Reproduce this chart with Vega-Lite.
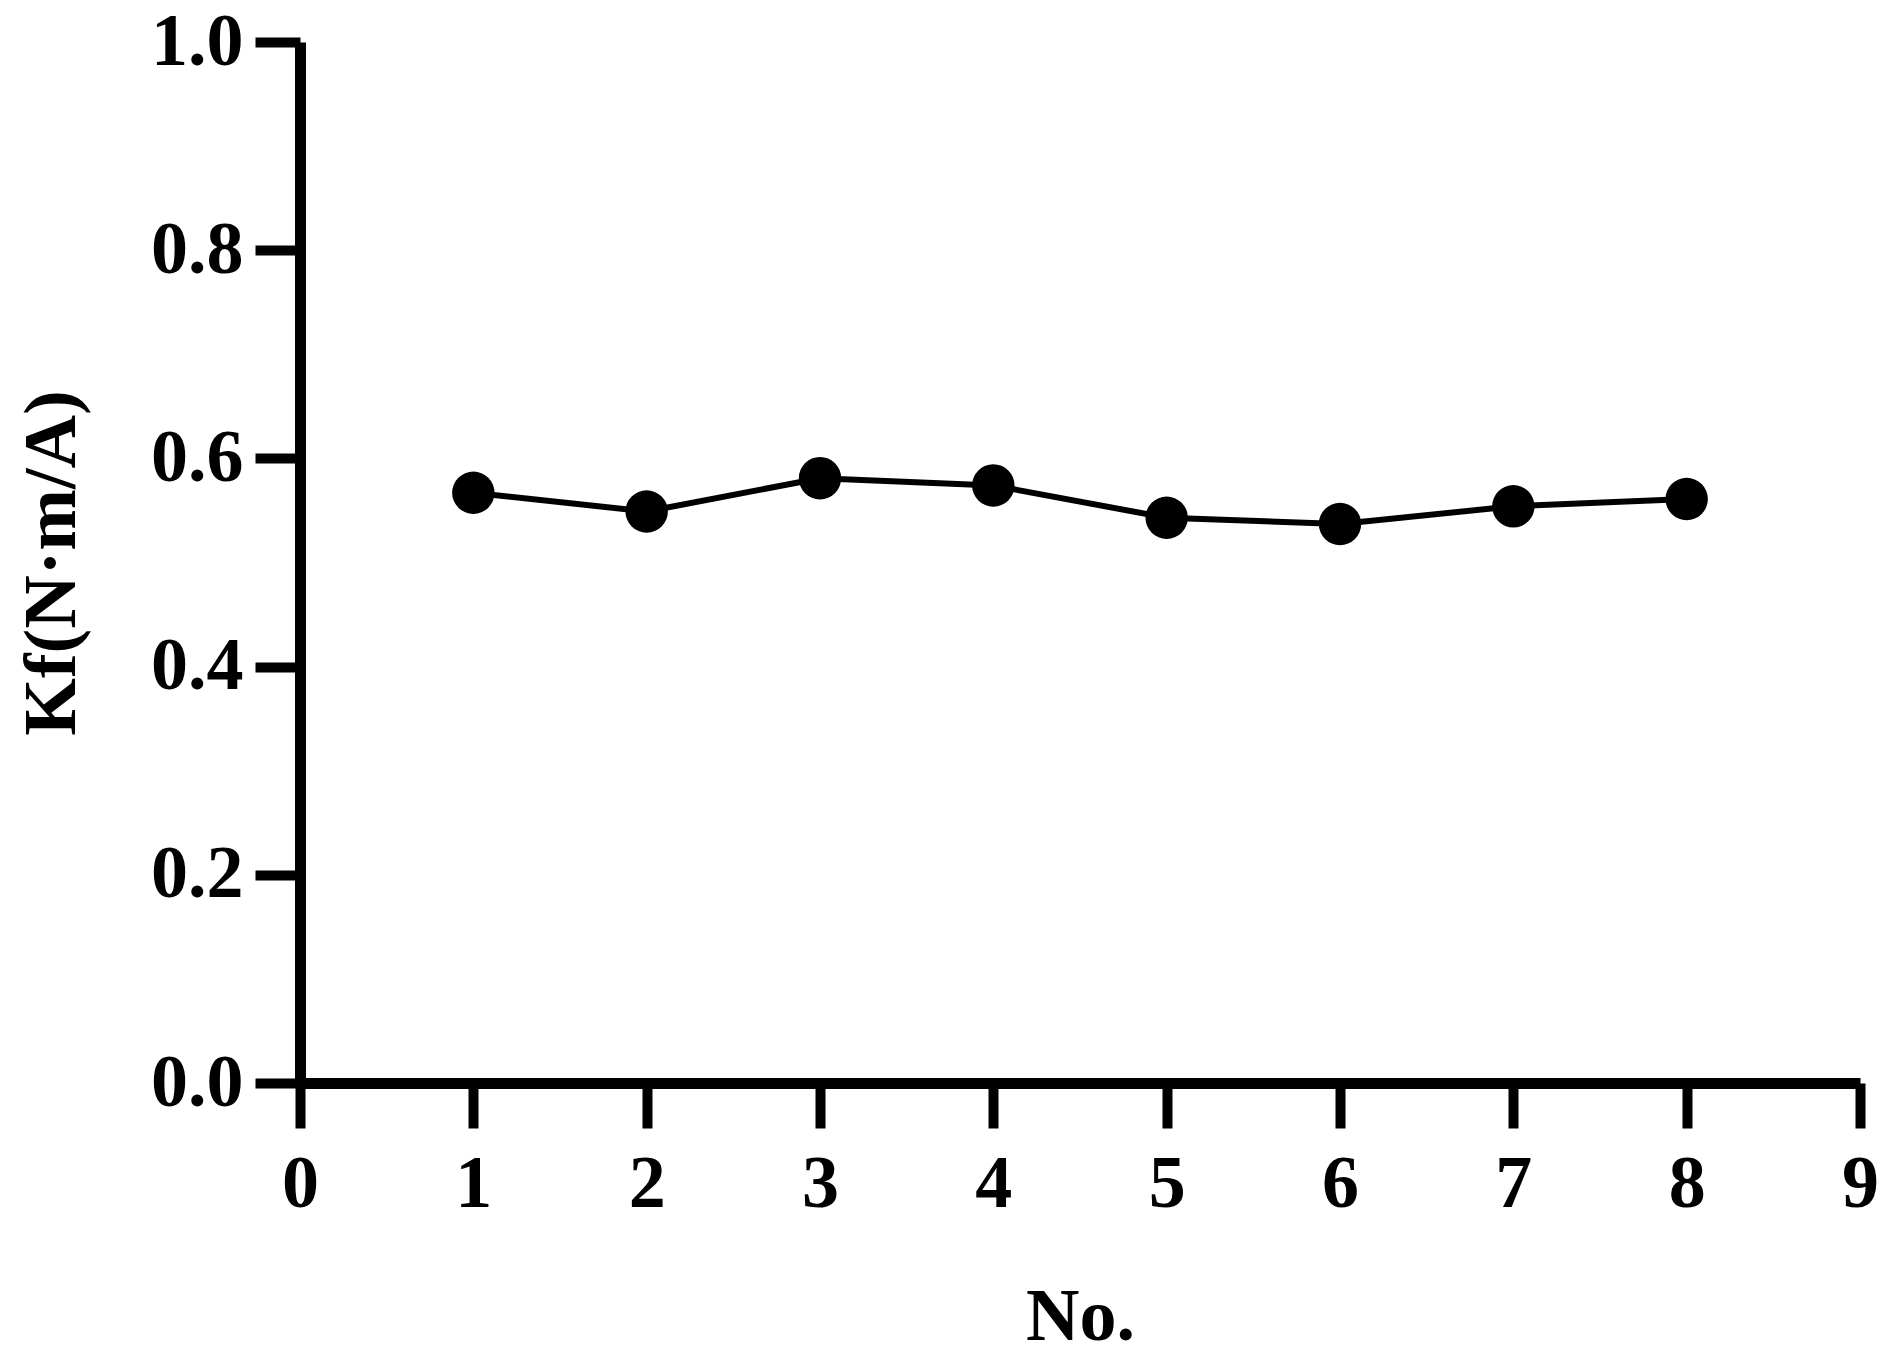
{
  "$schema": "https://vega.github.io/schema/vega-lite/v6.json",
  "autosize": "none",
  "padding": {"left": 300, "top": 42, "right": 39, "bottom": 278},
  "width": 1560,
  "height": 1041,
  "background": "white",
  "config": {
    "view": {"stroke": null},
    "font": "Times New Roman, Liberation Serif, serif",
    "axis": {
      "grid": false,
      "domainColor": "black",
      "domainWidth": 11,
      "tickColor": "black",
      "tickWidth": 10,
      "tickSize": 45,
      "labelFont": "Times New Roman, Liberation Serif, serif",
      "labelFontSize": 74,
      "labelFontWeight": "bold",
      "labelColor": "black",
      "titleFont": "Times New Roman, Liberation Serif, serif",
      "titleFontSize": 74,
      "titleFontWeight": "bold",
      "titleColor": "black"
    }
  },
  "data": {
    "values": [
      {"No": 1, "Kf": 0.567},
      {"No": 2, "Kf": 0.549},
      {"No": 3, "Kf": 0.581},
      {"No": 4, "Kf": 0.574},
      {"No": 5, "Kf": 0.543},
      {"No": 6, "Kf": 0.537},
      {"No": 7, "Kf": 0.554},
      {"No": 8, "Kf": 0.561}
    ]
  },
  "encoding": {
    "x": {
      "field": "No",
      "type": "quantitative",
      "scale": {"domain": [0, 9], "nice": false, "zero": false},
      "axis": {
        "title": "No.",
        "values": [0, 1, 2, 3, 4, 5, 6, 7, 8, 9],
        "format": "d",
        "labelPadding": 20,
        "titlePadding": 60,
        "labelFlush": false,
        "labelOverlap": false
      }
    },
    "y": {
      "field": "Kf",
      "type": "quantitative",
      "scale": {"domain": [0, 1], "nice": false},
      "axis": {
        "title": "Kf(N·m/A)",
        "values": [0, 0.2, 0.4, 0.6, 0.8, 1.0],
        "format": ".1f",
        "labelPadding": 12,
        "titlePadding": 60,
        "labelFlush": false,
        "labelOverlap": false
      }
    }
  },
  "layer": [
    {"mark": {"type": "line", "color": "black", "strokeWidth": 6}},
    {"mark": {"type": "point", "filled": true, "color": "black", "opacity": 1, "size": 1800, "shape": "circle"}}
  ]
}
